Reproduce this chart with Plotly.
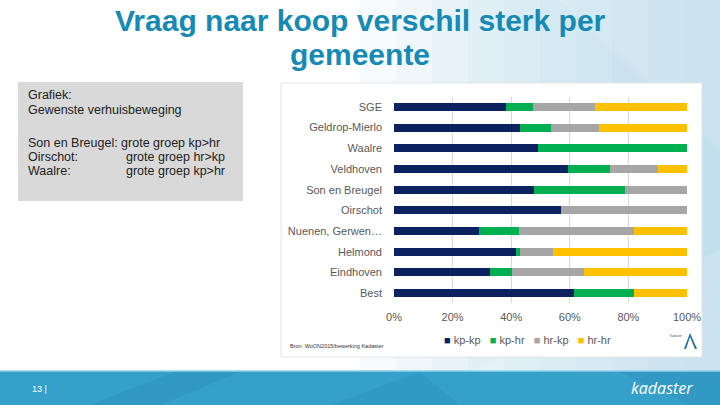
import plotly.graph_objects as go

# Gewenste verhuisbeweging per gemeente (aandeel, %)
gemeenten = ["SGE", "Geldrop-Mierlo", "Waalre", "Veldhoven", "Son en Breugel",
             "Oirschot", "Nuenen, Gerwen…", "Helmond", "Eindhoven", "Best"]
kp_kp = [38.3, 43.1, 49.0, 59.5, 47.8, 56.9, 29.0, 41.5, 32.6, 61.3]
kp_hr = [9.3, 10.4, 51.0, 14.1, 31.1, 0.0, 13.7, 1.6, 7.7, 20.5]
hr_kp = [21.1, 16.3, 0.0, 16.4, 21.1, 43.1, 39.1, 11.3, 24.6, 0.0]
hr_hr = [31.3, 30.2, 0.0, 10.0, 0.0, 0.0, 18.2, 45.6, 35.1, 18.2]

reeksen = [("kp-kp", kp_kp, "#0b2160"), ("kp-hr", kp_hr, "#00b050"),
           ("hr-kp", hr_kp, "#a6a6a6"), ("hr-hr", hr_hr, "#ffc000")]
x_ticks = [0, 20, 40, 60, 80, 100]

W, H = 720, 405


def px(x):
    return x / W


def py(y):
    return 1 - y / H


fig = go.Figure()
for naam, waarden, kleur in reeksen:
    fig.add_trace(go.Bar(y=gemeenten, x=waarden, name=naam, orientation="h",
                         marker=dict(color=kleur, line_width=0), width=0.38,
                         showlegend=False, hoverinfo="skip"))

shapes = []
# achtergrond: lichtblauwe gradient rechtsboven
for i in range(10):
    x0 = 360 + i * 36
    shapes.append(dict(type="rect", xref="paper", yref="paper", layer="below",
                       x0=px(x0), x1=1, y0=py(372), y1=1,
                       fillcolor="#8ecbe2", opacity=0.07, line_width=0))
shapes.append(dict(type="path", xref="paper", yref="paper", layer="below",
                   path=f"M {px(560)},{py(0)} L 1,{py(0)} L 1,{py(150)} Z",
                   fillcolor="#ffffff", opacity=0.12, line_width=0))
shapes.append(dict(type="path", xref="paper", yref="paper", layer="below",
                   path=f"M {px(470)},{py(372)} L {px(720)},{py(372)} L {px(720)},{py(250)} Z",
                   fillcolor="#ffffff", opacity=0.15, line_width=0))
# wit grafiekpaneel
shapes.append(dict(type="rect", xref="paper", yref="paper", layer="below",
                   x0=px(281), x1=px(702), y0=py(357), y1=py(83),
                   fillcolor="#ffffff", line=dict(color="#e4e4e4", width=1)))
# grijs tekstvak
shapes.append(dict(type="rect", xref="paper", yref="paper", layer="below",
                   x0=px(18), x1=px(243), y0=py(201), y1=py(82),
                   fillcolor="#d9d9d9", line_width=0))
# voettekstbalk
shapes.append(dict(type="rect", xref="paper", yref="paper", layer="below",
                   x0=0, x1=1, y0=0, y1=py(371),
                   fillcolor="#35a0c9", line_width=0))
shapes.append(dict(type="path", xref="paper", yref="paper", layer="below",
                   path=f"M {px(90)},0 L {px(175)},{py(372)} L {px(240)},{py(372)} L {px(160)},0 Z",
                   fillcolor="#2c8fbb", opacity=0.5, line_width=0))
shapes.append(dict(type="path", xref="paper", yref="paper", layer="below",
                   path=f"M {px(330)},0 L {px(420)},{py(372)} L {px(460)},0 Z",
                   fillcolor="#2c8fbb", opacity=0.35, line_width=0))
shapes.append(dict(type="path", xref="paper", yref="paper", layer="below",
                   path=f"M {px(620)},{py(372)} L {px(720)},{py(372)} L {px(720)},0 L {px(690)},0 Z",
                   fillcolor="#2c8fbb", opacity=0.4, line_width=0))
shapes.append(dict(type="line", xref="paper", yref="paper", layer="below",
                   x0=0, x1=1, y0=py(371), y1=py(371),
                   line=dict(color="#8fd0e8", width=1.5)))
# klein logo rechtsonder
shapes.append(dict(type="path", xref="paper", yref="paper",
                   path=(f"M {px(684)},{py(349)} L {px(690)},{py(333)} L {px(697)},{py(349)} "
                         f"L {px(695)},{py(349)} L {px(690)},{py(337)} L {px(686)},{py(349)} Z"),
                   fillcolor="#1d6f9f", line_width=0))


def tekst(t, x, y, size, color, xanchor="left", yanchor="middle", family="Liberation Sans, Arial"):
    return dict(text=t, x=px(x), y=py(y), xref="paper", yref="paper",
                xanchor=xanchor, yanchor=yanchor, showarrow=False,
                font=dict(family=family, size=size, color=color))


annotations = [
    tekst("<b>Vraag naar koop verschil sterk per</b>", 360, 21, 30, "#168ab4", xanchor="center"),
    tekst("<b>gemeente</b>", 360, 55, 30, "#168ab4", xanchor="center"),
    tekst("Bron: WoON2015/bewerking Kadaster", 288, 346, 5.5, "#333333"),
    tekst("Kadaster", 676, 336, 3, "#555555", xanchor="center"),
    tekst("13 |", 30, 389, 9, "#ffffff"),
    tekst("<i>kadaster</i>", 695, 388, 16, "#ffffff", xanchor="right",
          family="Open Sans, Liberation Sans"),
]

# legenda als tekstregel met gekleurde blokjes
legenda = "   ".join(f'<span style="color:{kleur}">■</span> {naam}' for naam, _, kleur in reeksen)
annotations.append(tekst(legenda, 527, 340, 11, "#595959", xanchor="center"))

regels = [("Grafiek:", "", 95), ("Gewenste verhuisbeweging", "", 110),
          ("Son en Breugel: grote groep kp>hr", "", 142.5),
          ("Oirschot:", "grote groep hr>kp", 157), ("Waalre:", "grote groep kp>hr", 171.5)]
for l, r, yy in regels:
    annotations.append(tekst(l, 26, yy, 12.5, "#222222"))
    if r:
        annotations.append(tekst(r, 124, yy, 12.5, "#222222"))

fig.update_layout(
    width=W, height=H,
    margin=dict(l=0, r=0, t=0, b=0, autoexpand=False),
    paper_bgcolor="#ffffff",
    plot_bgcolor="rgba(0,0,0,0)",
    barmode="stack",
    bargap=0.6,
    showlegend=False,
    hovermode=False,
    xaxis=dict(domain=[px(394), px(687)], range=[0, 100], tickvals=x_ticks,
               ticktext=[f"{v}%" for v in x_ticks], showgrid=True, gridcolor="#d9d9d9",
               gridwidth=1, zeroline=False, showline=False, ticks="",
               ticklabelstandoff=6, fixedrange=True,
               tickfont=dict(family="Liberation Sans, Arial", size=11, color="#595959")),
    yaxis=dict(domain=[py(303.4), py(96.6)], autorange="reversed", showgrid=False,
               ticks="", ticklabelstandoff=11, showline=False, fixedrange=True,
               tickfont=dict(family="Liberation Sans, Arial", size=11, color="#595959")),
    shapes=shapes,
    annotations=annotations,
)

fig.write_html("out.html", config={"displayModeBar": False},
               post_script="document.body.style.margin='0';")
